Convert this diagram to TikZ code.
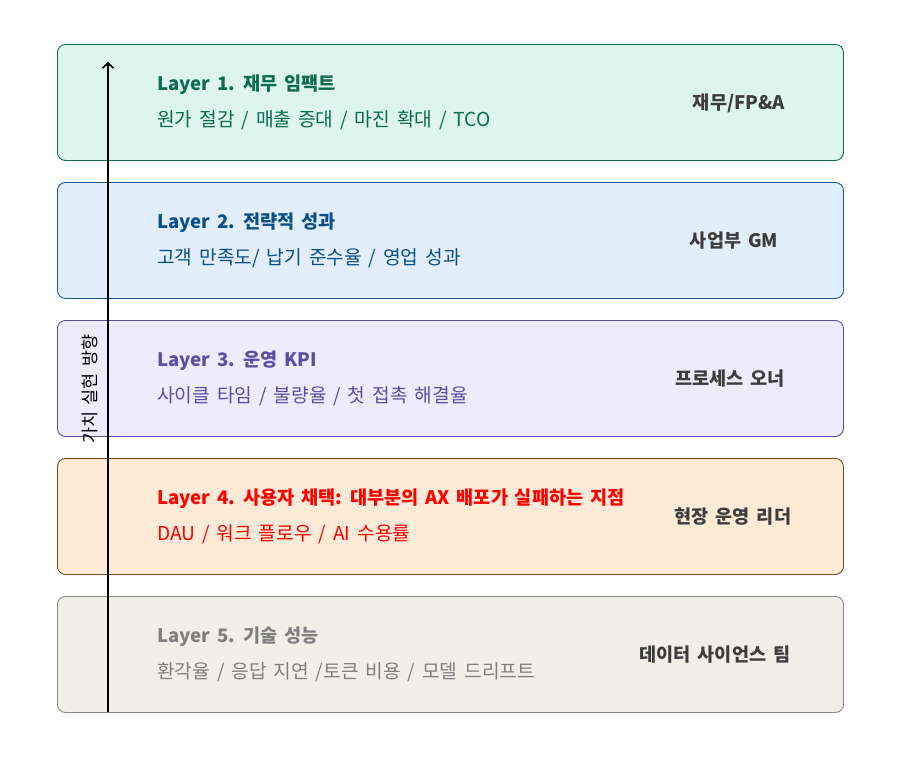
\documentclass[tikz,border=0pt]{standalone}
\usepackage{fontspec}
\setmainfont{Noto Sans CJK KR}[WordSpace=1.6]
\usetikzlibrary{arrows.meta}
\definecolor{gA}{HTML}{0D6B50}\definecolor{gAf}{HTML}{DDF5EC}
\definecolor{bA}{HTML}{0B4F8A}\definecolor{bAf}{HTML}{E2EFFA}\definecolor{bAd}{HTML}{1D5A8C}
\definecolor{pA}{HTML}{5B4FA3}\definecolor{pAf}{HTML}{EEEBFC}
\definecolor{rA}{HTML}{FF0000}\definecolor{rAf}{HTML}{FDEBD7}\definecolor{rAd}{HTML}{7A4A12}
\definecolor{yA}{HTML}{808080}\definecolor{yAf}{HTML}{F2EFE8}\definecolor{yAd}{HTML}{888888}
\definecolor{ownc}{HTML}{3D3D3D}
\tikzset{
  layerbox/.style={draw=#1, line width=0.9pt, rounded corners=8pt, minimum width=786pt, minimum height=116pt, inner sep=0pt, anchor=north west},
  ttl/.style={anchor=west, font=\fontsize{18.6}{22}\selectfont\bfseries, text=#1, inner sep=0pt},
  sub/.style={anchor=west, font=\fontsize{19.2}{22}\selectfont, text=#1, inner sep=0pt},
  own/.style={anchor=center, font=\fontsize{18.6}{22}\selectfont\bfseries, text=ownc, inner sep=0pt},
}
\begin{document}
\begin{tikzpicture}[x=1pt,y=-1pt]
\useasboundingbox (0,0) rectangle (900,756);
\node[layerbox=gA, fill=gAf] (b1) at (57,44) {};
\node[layerbox=bAd, fill=bAf] (b2) at (57,182) {};
\node[layerbox=pA, fill=pAf] (b3) at (57,320) {};
\node[layerbox=rAd, fill=rAf] (b4) at (57,458) {};
\node[layerbox=yAd, fill=yAf] (b5) at (57,596) {};
\node[ttl=gA] (t1) at (157,85) {Layer 1. 재무 임팩트};
\node[sub=gA] (s1) at (157,120) {원가 절감 / 매출 증대 / 마진 확대 / TCO};
\node[own] (o1) at (739,103) {재무/FP\&A};
\node[ttl=bA] (t2) at (157,223) {Layer 2. 전략적 성과};
\node[sub=bA] (s2) at (157,258) {고객 만족도/ 납기 준수율 / 영업 성과};
\node[own] (o2) at (734,241) {사업부 GM};
\node[ttl=pA] (t3) at (157,361) {Layer 3. 운영 KPI};
\node[sub=pA] (s3) at (157,396) {사이클 타임 / 불량율 / 첫 접촉 해결율};
\node[own] (o3) at (730,379) {프로세스 오너};
\node[ttl=rA] (t4) at (157,499) {Layer 4. 사용자 채택: 대부분의 AX 배포가 실패하는 지점};
\node[sub=rA] (s4) at (157,534) {DAU / 워크 플로우 / AI 수용률};
\node[own] (o4) at (733,517) {현장 운영 리더};
\node[ttl=yA] (t5) at (157,637) {Layer 5. 기술 성능};
\node[sub=yA] (s5) at (157,672) {환각율 / 응답 지연 /토큰 비용 / 모델 드리프트};
\node[own] (o5) at (715,655) {데이터 사이언스 팀};
\coordinate (abot) at (108,712);
\coordinate (atop) at (108,62);
\draw[line width=1.6pt, -{Straight Barb[length=5pt,width=11pt]}] (abot) -- (atop);
\node[rotate=90, font=\fontsize{17.5}{20}\selectfont, inner sep=0pt] (vl) at (90,389) {가치 실현 방향};
\end{tikzpicture}
\end{document}
